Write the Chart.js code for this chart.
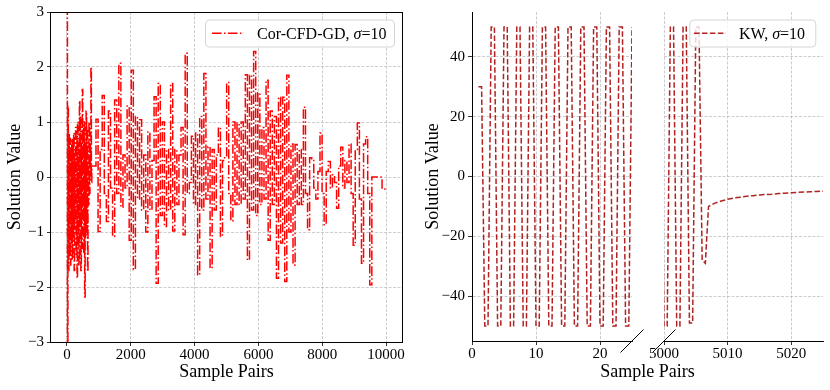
<!DOCTYPE html>
<html><head><meta charset="utf-8">
<script src="https://cdn.jsdelivr.net/npm/chart.js@4.4.0/dist/chart.umd.min.js"></script>
<style>
html,body{margin:0;padding:0;background:#fff;}
#wrap{position:relative;width:830px;height:390px;overflow:hidden;background:#fff;}
canvas{position:absolute;top:0;}
</style></head><body>
<div id="wrap">
<canvas id="c1" width="410" height="390" style="left:0;width:410px;height:390px"></canvas>
<canvas id="c2" width="418" height="390" style="left:412px;width:418px;height:390px"></canvas>
<canvas id="c3" width="185" height="390" style="left:645px;width:185px;height:390px"></canvas>
</div>
<script>
// ---------- data ----------
const cfdX = [0,15,30,45,60,75,90,105,120,135,150,165,180,195,210,225,240,255,270,285,
  300,315,330,345,360,375,390,405,420,435,450,465,480,495,510,525,540,555,570,585,
  600,615,630,645,660,675,690,705,720,735,750,765,780,
  845,910,975,1040,1105,1170,1235,1300,1365,1430,1495,1560,1625,1690,1755,1820,1885,1950,2015,2080,
  2145,2210,2275,2340,2405,2470,2535,2600,2665,2730,2795,2860,2925,2990,3055,3120,3185,3250,3315,3380,
  3445,3510,3575,3640,3705,3770,3835,3900,3965,4030,4095,4160,4225,4290,4355,4420,4485,4550,4615,4680,
  4745,4810,4875,4940,5005,5070,5135,5200,5265,5330,5395,5460,5525,5590,5655,5720,5785,5850,5915,5980,
  6045,6110,6175,6240,6305,6370,6435,6500,6565,6630,6695,6760,6825,6890,6955,7020,7085,7150,7215,7280,
  7345,7410,7475,7540,7605,7670,7735,7800,7865,7930,7995,8060,8125,8190,8255,8320,8385,8450,8515,8580,
  8645,8710,8775,8840,8905,8970,9035,9100,9165,9230,9295,9360,9425,9490,9555,9875,10000];
const cfdY = [3.4,-3.4,1.3,-1.7,0.8,-1.3,0.7,-1.6,0.5,-1.2,0.7,-1.5,0.6,-1.0,0.8,-1.7,0.4,-0.8,0.9,-1.4,
  0.7,-1.84,1.0,-1.2,0.5,-1.6,1.39,-0.9,1.1,-1.7,0.6,-1.3,1.59,-0.7,0.9,-1.4,1.0,-2.18,0.6,-1.1,
  1.2,-1.0,0.9,-1.72,0.4,-0.5,1.0,-0.3,0.6,0.1,2.0,-0.1,0.2,
  0.2,1.05,-0.99,0.5,1.48,-0.3,-0.81,1.2,-0.2,-1.08,1.4,-0.3,2.07,-0.55,0.4,-0.2,1.29,-1.15,1.94,-1.68,
  1.1,-0.4,1.04,-0.6,0.4,-1.0,0.82,-0.6,0.3,1.46,-1.93,1.7,-0.7,1.0,-0.9,0.5,-0.6,1.7,-0.98,0.5,
  -0.5,0.4,0.9,-1.05,2.25,-0.3,-0.1,0.74,-0.5,0.8,-1.78,1.1,-0.6,1.88,-0.4,0.55,-1.66,0.5,-0.6,0.4,
  0.9,-1.08,0.3,0.35,1.72,-0.3,-0.8,1.0,-0.5,0.98,-0.5,1.0,-0.4,1.86,-1.51,1.85,-0.6,2.28,-0.7,1.53,
  -0.5,0.9,-0.4,1.76,-1.15,1.2,-0.5,1.1,-1.84,1.45,-1.2,1.45,-1.9,1.85,-1.0,0.6,-1.6,0.59,-0.5,0.5,
  -0.5,1.27,-0.3,-0.96,0.35,0.3,-0.2,-0.4,0.1,0.8,-0.3,-0.87,0.1,0.28,-0.2,0.04,-0.1,-0.57,0.2,0.54,
  -0.2,0.3,-0.1,0.6,-0.3,-1.24,0.5,0.98,-0.4,-1.57,0.6,0.73,-0.3,-1.96,0.0,-0.22,-0.22];
const leftXTicks = [0,2000,4000,6000,8000,10000];
const leftYTicks = [-3,-2,-1,0,1,2,3];

const kwAX = [1,1.5,2,2.5,3,3.5,4,4.5,5,5.5,6,6.5,7,7.5,8,8.5,9,9.5,10,10.5,11,11.5,12,12.5,13,13.5,
  14,14.5,15,15.5,16,16.5,17,17.5,18,18.5,19,19.5,20,20.5,21,21.5,22,22.5,23,23.5,24,24.5,25,25.5];
const kwAY = [30,30,-50,-50,50,50,-50,-50,50,50,-50,-50,50,50,-50,-50,50,50,-50,-50,50,50,-50,-50,50,50,
  -50,-50,50,50,-50,-50,50,50,-50,-50,50,50,-50,-50,50,50,-50,-50,50,50,-50,-50,50,50];
const kwBX = [4999.5,5000,5000.5,5001,5001.5,5002,5002.5,5003,5003.5,5004,5004.5,5005,5005.5,5006,5006.5,5007,
  5008,5009,5010,5011,5012,5013,5014,5015,5016,5017,5018,5019,5020,5021,5022,5023,5024,5025];
const kwBY = [50,-50,-50,50,50,-50,-50,50,50,-49,-49,50,50,-28,-29,-10,
  -8.9,-8.2,-7.6,-7.2,-6.9,-6.6,-6.4,-6.2,-6.0,-5.9,-5.7,-5.6,-5.4,-5.3,-5.2,-5.1,-5.0,-4.9];
const rightXTicksA = [0,10,20];
const rightXTicksB = [5000,5010,5020];
const rightYTicks = [-40,-20,0,20,40];

// ---------- helpers ----------
const FONT = "'Liberation Serif','Times New Roman',serif";
Chart.defaults.font.family = FONT;
Chart.defaults.color = '#000';
const GRID = 'rgba(176,176,176,0.8)';
const minus = v => String(v).replace('-', '\u2212');
const fixedTicks = arr => s => { s.ticks = arr.map(v => ({value: v})); };

function rr(ctx,x,y,w,h,r){ctx.beginPath();ctx.moveTo(x+r,y);ctx.lineTo(x+w-r,y);ctx.arcTo(x+w,y,x+w,y+r,r);
  ctx.lineTo(x+w,y+h-r);ctx.arcTo(x+w,y+h,x+w-r,y+h,r);ctx.lineTo(x+r,y+h);ctx.arcTo(x,y+h,x,y+h-r,r);
  ctx.lineTo(x,y+r);ctx.arcTo(x,y,x+r,y,r);ctx.closePath();}

function legendPlugin(box, line, textX, baseY, parts, color, dash){
  return {id:'lg', afterDraw(chart){
    const ctx = chart.ctx; ctx.save();
    rr(ctx, box[0]+0.5, box[1]+0.5, box[2], box[3], 4);
    ctx.fillStyle='rgba(255,255,255,0.8)'; ctx.fill();
    ctx.strokeStyle='#d4d4d4'; ctx.lineWidth=1; ctx.stroke();
    ctx.beginPath(); ctx.setLineDash(dash); ctx.strokeStyle=color; ctx.lineWidth=1.5;
    ctx.moveTo(line[0], line[2]); ctx.lineTo(line[1], line[2]); ctx.stroke(); ctx.setLineDash([]);
    let x = textX; ctx.fillStyle='#000'; ctx.textBaseline='alphabetic'; ctx.textAlign='left';
    for (const p of parts){ ctx.font=(p.it?'italic ':'')+'16px '+FONT; ctx.fillText(p.t, x, baseY); x += ctx.measureText(p.t).width; }
    ctx.restore();
  }};
}

const boxPlugin = {id:'box', afterDatasetsDraw(chart){
  const a = chart.chartArea, ctx = chart.ctx; ctx.save();
  ctx.strokeStyle='#000'; ctx.lineWidth=1;
  const l=Math.round(a.left)-0.5, t=Math.round(a.top)+0.5, r=Math.round(a.right)+0.5, b=Math.round(a.bottom)+0.5;
  ctx.strokeRect(l, t, r-l, b-t); ctx.restore();
}};

function breakMark(side){
  return {id:'brk', afterDraw(chart){
    const a = chart.chartArea, ctx = chart.ctx;
    const cx = side === 'right' ? a.right : a.left, cy = a.bottom;
    ctx.save(); ctx.strokeStyle='#000'; ctx.lineWidth=1; ctx.beginPath();
    ctx.moveTo(cx-11.5, cy+11.5); ctx.lineTo(cx+11.5, cy-11.5); ctx.stroke(); ctx.restore();
  }};
}

const tickFont = {size:15};
const titleFont = {size:18};
const gridOpts = {color:GRID, lineWidth:0.8, tickColor:'#000', tickLength:4, tickWidth:0.8};
const common = {responsive:false, animation:false, events:[], devicePixelRatio:1,
  plugins:{legend:{display:false}, tooltip:{enabled:false}}};

// ---------- left chart ----------
new Chart(document.getElementById('c1'), {
  type:'line',
  data:{datasets:[{data: cfdX.map((x,i)=>({x, y: cfdY[i]})), borderColor:'#ff0000', borderWidth:1.5,
    borderDash:[9.6,2.4,1.5,2.4], stepped:true, pointRadius:0, fill:false}]},
  options:Object.assign({}, common, {
    layout:{padding:{left:0,right:8,top:12,bottom:0}},
    scales:{
      x:{type:'linear', min:-500, max:10500, afterBuildTicks:fixedTicks(leftXTicks), afterFit:s=>{s.height=48;},
        ticks:{font:tickFont, padding:0, maxRotation:0, autoSkip:false, callback:v=>minus(v)},
        grid:gridOpts, border:{display:false, dash:[3,1.5]},
        title:{display:true, text:'Sample Pairs', font:titleFont, padding:{top:0,bottom:6.5}}},
      y:{type:'linear', min:-3, max:3, afterBuildTicks:fixedTicks(leftYTicks), afterFit:s=>{s.width=51;},
        ticks:{font:tickFont, padding:3, autoSkip:false, callback:v=>minus(v)},
        grid:gridOpts, border:{display:false, dash:[3,1.5]},
        title:{display:true, text:'Solution Value', font:titleFont, padding:{top:4.2,bottom:0}}}
    }}),
  plugins:[boxPlugin, legendPlugin([205,19.5,189,27],[212,244,33.3],257,39,
    [{t:'Cor-CFD-GD, ',it:false},{t:'\u03c3',it:true},{t:'=10',it:false}],'#ff0000',[9.6,2.4,1.5,2.4])]
});

// ---------- right panel A ----------
const kwColor = '#b22222';
new Chart(document.getElementById('c2'), {
  type:'line',
  data:{datasets:[{data: kwAX.map((x,i)=>({x, y: kwAY[i]})), borderColor:kwColor, borderWidth:1.5,
    borderDash:[5.55,2.4], pointRadius:0, fill:false, tension:0}]},
  options:Object.assign({}, common, {
    layout:{padding:{left:0,right:198,top:12,bottom:0}},
    scales:{
      x:{type:'linear', min:0, max:25, afterBuildTicks:fixedTicks(rightXTicksA), afterFit:s=>{s.height=49;},
        ticks:{font:tickFont, padding:0, maxRotation:0, autoSkip:false, callback:v=>minus(v)},
        grid:gridOpts, border:{display:true, color:'#000', width:1, dash:[3,1.5]}},
      y:{type:'linear', min:-55, max:55, afterBuildTicks:fixedTicks(rightYTicks), afterFit:s=>{s.width=60;},
        ticks:{font:tickFont, padding:3, autoSkip:false, callback:v=>minus(v)},
        grid:gridOpts, border:{display:true, color:'#000', width:1, dash:[3,1.5]},
        title:{display:true, text:'Solution Value', font:titleFont, padding:{top:10.5,bottom:0}}}
    }}),
  plugins:[breakMark('right'), {id:'xt', afterDraw(chart){
    const ctx = chart.ctx; ctx.save(); ctx.font='18px '+FONT; ctx.fillStyle='#000';
    ctx.textAlign='center'; ctx.textBaseline='middle';
    ctx.fillText('Sample Pairs', 647.5-412, 390-10.8-6.5); ctx.restore();
  }}]
});

// ---------- right panel B ----------
new Chart(document.getElementById('c3'), {
  type:'line',
  data:{datasets:[{data: kwBX.map((x,i)=>({x, y: kwBY[i]})), borderColor:kwColor, borderWidth:1.5,
    borderDash:[5.55,2.4], pointRadius:0, fill:false, tension:0}]},
  options:Object.assign({}, common, {
    layout:{padding:{left:19,right:7,top:12,bottom:0}},
    scales:{
      x:{type:'linear', min:5000, max:5025, afterBuildTicks:fixedTicks(rightXTicksB), afterFit:s=>{s.height=49;},
        ticks:{font:tickFont, padding:0, maxRotation:0, autoSkip:false, callback:v=>String(v)},
        grid:gridOpts, border:{display:true, color:'#000', width:1, dash:[3,1.5]}},
      y:{type:'linear', min:-55, max:55, afterBuildTicks:fixedTicks(rightYTicks), afterFit:s=>{s.width=0;},
        ticks:{display:false},
        grid:Object.assign({}, gridOpts, {drawTicks:false}), border:{display:false, dash:[3,1.5]}}
    }}),
  plugins:[breakMark('left'), legendPlugin([44.3,19.5,126,27],[49,81,33.3],94,39,
    [{t:'KW, ',it:false},{t:'\u03c3',it:true},{t:'=10',it:false}], kwColor,[5.55,2.4])]
});
</script>
</body></html>
